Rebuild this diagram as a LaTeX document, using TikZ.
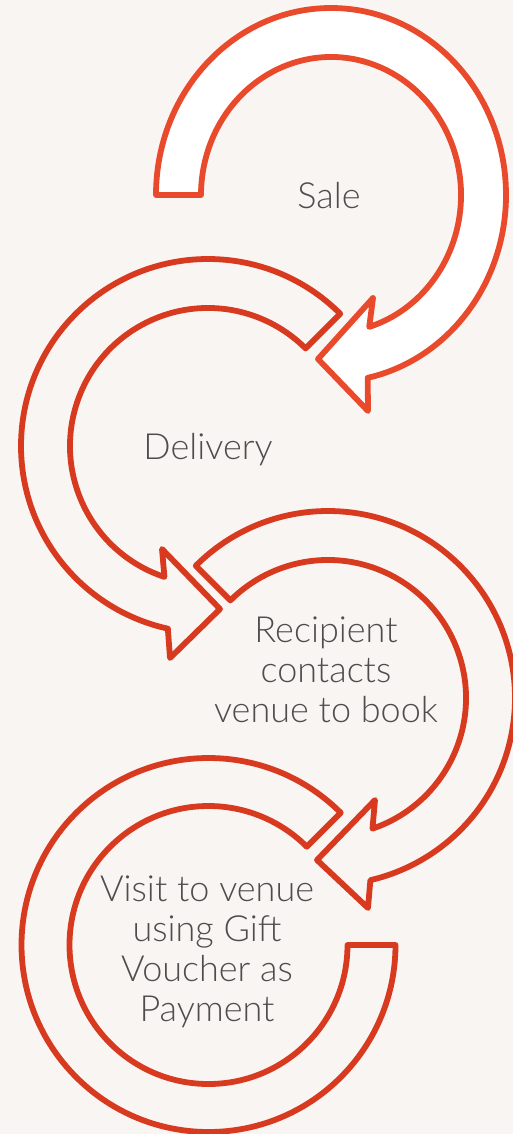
\documentclass[tikz,border=0pt]{standalone}
\usepackage{fontspec}
\newfontfamily\labelfont{Lato Light}
\definecolor{bg}{HTML}{F9F5F2}
\definecolor{arrowA}{HTML}{EA4A2C}
\definecolor{arrowB}{HTML}{D83A20}
\definecolor{txt}{HTML}{4D4D4D}
\begin{document}
\begin{tikzpicture}[x=1pt,y=1pt,
  ringA/.style={draw=arrowA, fill=white, line width=5.8pt, line join=round},
  ringB/.style={draw=arrowB, fill=bg, line width=5.8pt, line join=round},
  lbl/.style={font=\labelfont\fontsize{36}{40}\selectfont, text=txt, align=center, inner sep=0pt}]
\fill[bg] (0,0) rectangle (513,-1134);
\useasboundingbox (0,0) rectangle (513,-1134);
\clip (0,0) rectangle (513,-1134);
% Arrow 1 (Sale)
\begin{scope}[shift={(331,-195)}]
\draw[ringA] (180:175 and 187) arc[start angle=180, end angle=-77.9, x radius=175, y radius=187]
  -- (37,-216) -- (-13,-164) -- (42,-103)
  -- (-72.9:130 and 138) arc[start angle=-72.9, end angle=180, x radius=130, y radius=138] -- cycle;
\end{scope}
% Arrow 2 (Delivery)
\begin{scope}[shift={(208,-446)}]
\draw[ringB] (45:187) arc[start angle=45, end angle=257.6, radius=187]
  -- (-38,-212) -- (12,-163) -- (-46,-103)
  -- (251.6:138) arc[start angle=251.6, end angle=45, radius=138] -- cycle;
\end{scope}
% Arrow 3 (Recipient)
\begin{scope}[shift={(328,-698)}]
\draw[ringB] (135:187) arc[start angle=135, end angle=-76.9, radius=187]
  -- (40,-210) -- (-11,-162) -- (47,-102)
  -- (-71.2:138) arc[start angle=-71.2, end angle=135, radius=138] -- cycle;
\end{scope}
% Arrow 4 (Visit)
\begin{scope}[shift={(208.5,-945)}]
\draw[ringB] (45:187) arc[start angle=45, end angle=360, radius=187]
  -- (0:139) arc[start angle=360, end angle=45, radius=139] -- cycle;
\end{scope}
\node[lbl] (sale) at (329,-196) {Sale};
\node[lbl] (delivery) at (208,-450) {Delivery};
\node[lbl] (recipient) at (326,-670) {Recipient\\contacts\\venue to book};
\node[lbl] (visit) at (207,-952) {Visit to venue\\using Gift\\Voucher as\\Payment};
\end{tikzpicture}
\end{document}
